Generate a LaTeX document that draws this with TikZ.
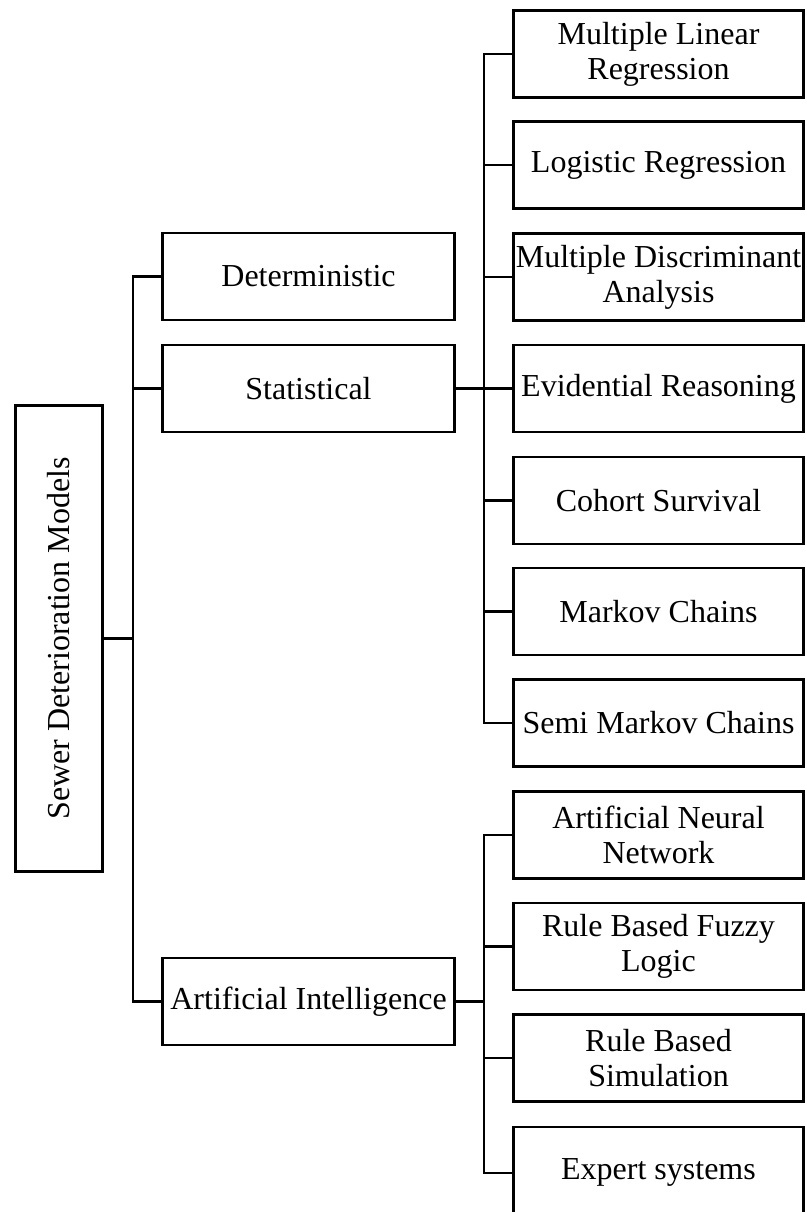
\documentclass[tikz,border=0pt]{standalone}
\usepackage{fontspec}
\setmainfont{Liberation Serif}
\begin{document}
\begin{tikzpicture}[x=1pt,y=-1pt,
  line width=2.6pt,
  box/.style={draw, line width=2.6pt, inner sep=0pt, align=center,
    font=\fontsize{32}{35}\selectfont},
  leaf/.style={box, minimum width=290pt, minimum height=87pt},
  branch/.style={box, minimum width=292pt, minimum height=87pt}]
\useasboundingbox (0,0) rectangle (806,1212);
\clip (0,0) rectangle (806,1212);

% root
\node[box, rotate=90, minimum width=466pt, minimum height=87pt] (root) at (59,638.5) {Sewer Deterioration Models};

% model families
\node[branch] (det)  at (308.5,276.5)  {Deterministic};
\node[branch] (stat) at (308.5,388.5)  {Statistical};
\node[branch] (ai)   at (308.5,1001.5) {Artificial Intelligence};

% statistical methods
\node[leaf] (mlr)    at (658.5,54)    {Multiple Linear\\Regression};
\node[leaf] (logit)  at (658.5,165)   {Logistic Regression};
\node[leaf] (mda)    at (658.5,277)   {Multiple Discriminant\\Analysis};
\node[leaf] (er)     at (658.5,388.5) {Evidential Reasoning};
\node[leaf] (cohort) at (658.5,500.5) {Cohort Survival};
\node[leaf] (markov) at (658.5,611.5) {Markov Chains};
\node[leaf] (semi)   at (658.5,723)   {Semi Markov Chains};

% AI methods
\node[leaf] (ann)    at (658.5,835)   {Artificial Neural\\Network};
\node[leaf] (fuzzy)  at (658.5,946.5) {Rule Based Fuzzy\\Logic};
\node[leaf] (rbs)    at (658.5,1058)  {Rule Based\\Simulation};
\node[leaf, minimum height=92pt, anchor=north] (expert) at (658.5,1125.5) {Expert systems};

% trunk positions
\coordinate (t) at (133,0);
\coordinate (s) at (484,0);

% root to families
\draw (root.south) -- (root.south -| t);
\draw (det.west) -- (det.west -| t) |- (ai.west);
\draw (stat.west) -- (stat.west -| t);

% statistical branch
\draw (stat.east) -- (stat.east -| s);
\draw (mlr.west) -- (mlr.west -| s) |- (semi.west);
\foreach \n in {logit,mda,er,cohort,markov}
  \draw (\n.west) -- (\n.west -| s);

% AI branch
\draw (ai.east) -- (ai.east -| s);
\draw (ann.west) -- (ann.west -| s) |- (expert.west);
\foreach \n in {fuzzy,rbs}
  \draw (\n.west) -- (\n.west -| s);
\end{tikzpicture}
\end{document}
